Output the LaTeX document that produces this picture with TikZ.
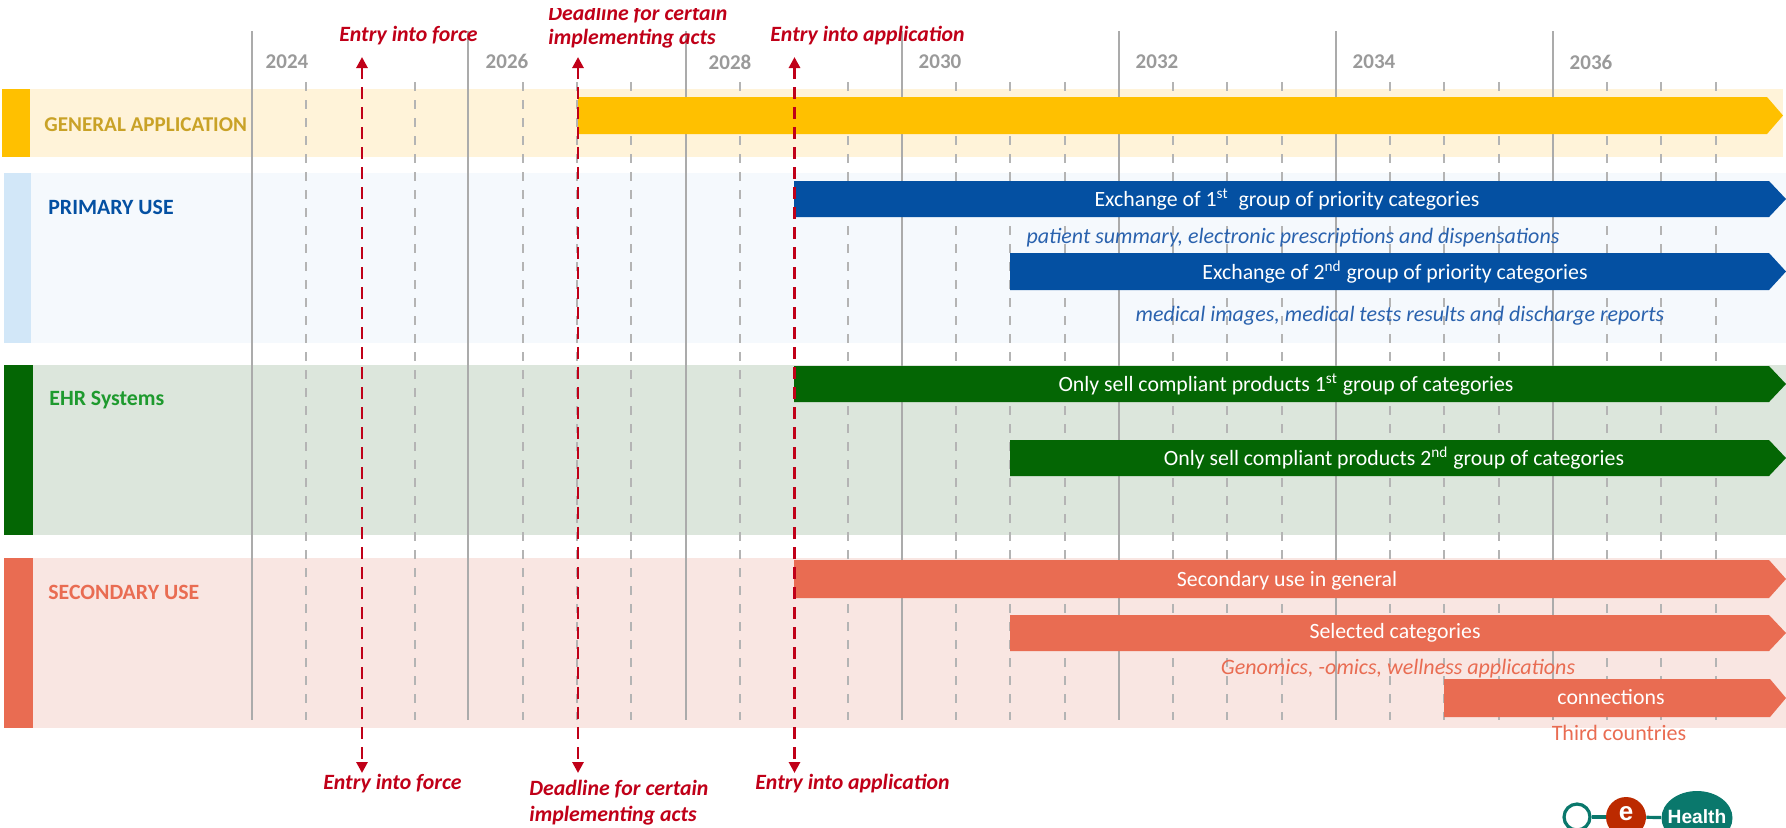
\documentclass[tikz,border=0pt]{standalone}
\usepackage{fontspec}
\setmainfont{Carlito}
\newfontfamily\logofont{Liberation Sans}
\usetikzlibrary{arrows.meta,shapes.geometric}
\definecolor{cyel}{HTML}{FFC000}\definecolor{cyelb}{HTML}{FFF3D9}\definecolor{cyelt}{HTML}{C9A227}
\definecolor{cblu}{HTML}{0450A2}\definecolor{cblub}{HTML}{F5F9FD}\definecolor{cblut}{HTML}{D2E7F8}\definecolor{cbluw}{HTML}{2A62AE}
\definecolor{cgrn}{HTML}{046604}\definecolor{cgrnb}{HTML}{DCE6DC}\definecolor{cgrnw}{HTML}{1E9A2E}
\definecolor{corg}{HTML}{E96C52}\definecolor{corgb}{HTML}{F9E6E2}
\definecolor{cred}{HTML}{C00018}\definecolor{cline}{HTML}{ABABAB}\definecolor{cdash}{HTML}{B4B4B4}\definecolor{cyear}{HTML}{9A9A9A}\definecolor{cteal}{HTML}{0A786C}\definecolor{clogr}{HTML}{BC2A00}
\tikzset{
 x=0.5pt,y=-0.5pt,
 solidline/.style={cline,line width=0.8pt},
 dashline/.style={cdash,line width=0.65pt,dash pattern=on 4.5pt off 4.5pt},
 redline/.style={cred,line width=1.4pt,dash pattern=on 6pt off 4pt,{Triangle[length=5.5pt,width=5.5pt]}-{Triangle[length=5.5pt,width=5.5pt]}},
 yeartxt/.style={cyear,font=\fontsize{10.5}{12}\selectfont\bfseries,inner sep=0},
 redtxt/.style={cred,font=\fontsize{10.9}{12}\selectfont\bfseries\itshape,inner sep=0,anchor=west},
 headtxt/.style={font=\fontsize{10.9}{12}\selectfont\bfseries,inner sep=0,anchor=west},
 bartxt/.style={white,font=\fontsize{10.9}{12}\selectfont,inner sep=0},
 subtxt/.style={font=\fontsize{11}{12}\selectfont\itshape,inner sep=0},
}
\newcommand{\barshape}[6]{% color, x0, x1 (head start), tip, y0, y1
 \fill[#1] (#2,#5) -- (#3,#5) -- (#4,{(#5+#6)/2}) -- (#3,#6) -- (#2,#6) -- cycle;}
\begin{document}
\begin{tikzpicture}
\useasboundingbox (0,0) rectangle (1786,827);
\clip (0,8) rectangle (1786,827);
% bands
\fill[cyelb] (30,89) rectangle (1783,157);
\fill[cyel] (2,89) rectangle (30,157);
\fill[cblub] (31,173) rectangle (1786,343);
\fill[cblut] (4,173) rectangle (31,343);
\fill[cgrnb] (33,365) rectangle (1786,535);
\fill[cgrn] (4,365) rectangle (33,535);
\fill[corgb] (33,558) rectangle (1786,728);
\fill[corg] (4,558) rectangle (33,728);
% grid
\foreach \x in {252,468,686,902,1119,1336,1553}
  \draw[solidline] (\x,31) -- (\x,720);
\foreach \x in {306,415,523,577,631,740,848,956,1010,1065,1173,1227,1282,1390,1444,1499,1607,1661,1716}
  \draw[dashline] (\x,82) -- (\x,720);
% bars
\barshape{cyel}{578}{1767}{1783}{97}{134}
\barshape{cblu}{794}{1769}{1786}{181}{217}
\barshape{cblu}{1010}{1769}{1786}{253}{290}
\barshape{cgrn}{794}{1769}{1786}{366}{402}
\barshape{cgrn}{1010}{1769}{1786}{440}{476}
\barshape{corg}{794}{1769}{1786}{560}{598}
\barshape{corg}{1010}{1769}{1786}{615}{651}
\barshape{corg}{1444}{1770}{1786}{679}{717}
% red markers
\coordinate (ftop) at (362,57); \coordinate (fbot) at (362,773);
\coordinate (dtop) at (578,57); \coordinate (dbot) at (578,773);
\coordinate (atop) at (794.5,57); \coordinate (abot) at (794.5,773);
\draw[redline] (ftop) -- (fbot);
\draw[redline] (dtop) -- (dbot);
\draw[redline] (atop) -- (abot);
% years
\node[yeartxt] (y24) at (287,62) {2024};
\node[yeartxt] (y26) at (507,61) {2026};
\node[yeartxt] (y28) at (730,62) {2028};
\node[yeartxt] (y30) at (940,62) {2030};
\node[yeartxt] (y32) at (1157,62) {2032};
\node[yeartxt] (y34) at (1374,62) {2034};
\node[yeartxt] (y36) at (1591,62) {2036};
% red labels
\node[redtxt] (t1) at (339,36) {Entry into force};
\node[redtxt] (t2) at (548,14) {Deadline for certain};
\node[redtxt] (t3) at (548,39) {implementing acts};
\node[redtxt] (t4) at (770,36) {Entry into application};
\node[redtxt] (b1) at (323,784) {Entry into force};
\node[redtxt] (b2) at (529,789) {Deadline for certain};
\node[redtxt] (b3) at (529,816) {implementing acts};
\node[redtxt] (b4) at (755,784) {Entry into application};
% headings
\node[headtxt,cyelt,font=\fontsize{10.55}{12}\selectfont\bfseries] (h1) at (44,125) {GENERAL APPLICATION};
\node[headtxt,cblu] (h2) at (48,207) {PRIMARY USE};
\node[headtxt,cgrnw] (h3) at (49,400) {EHR Systems};
\node[headtxt,corg] (h4) at (48,592) {SECONDARY USE};
% bar texts
\node[bartxt] (e1) at (1287,200) {Exchange of 1\textsuperscript{st}\ \ group of priority categories};
\node[bartxt] (e2) at (1395,272) {Exchange of 2\textsuperscript{nd} group of priority categories};
\node[subtxt,cbluw] (s1) at (1293,238) {patient summary, electronic prescriptions and dispensations};
\node[subtxt,cbluw] (s2) at (1400,316) {medical images, medical tests results and discharge reports};
\node[bartxt] (g1) at (1286,385) {Only sell compliant products 1\textsuperscript{st} group of categories};
\node[bartxt] (g2) at (1394,458) {Only sell compliant products 2\textsuperscript{nd} group of categories};
\node[bartxt] (o1) at (1287,581) {Secondary use in general};
\node[bartxt] (o2) at (1395,633) {Selected categories};
\node[subtxt,corg] (o3) at (1398,669) {Genomics, -omics, wellness applications};
\node[bartxt] (o4) at (1611,697) {connections};
\node[corg,font=\fontsize{11}{12}\selectfont,inner sep=0] (o5) at (1619,733) {Third countries};
% logo
\node[circle,draw=cteal,fill=white,line width=1.6pt,minimum size=13pt,inner sep=0] (la) at (1577,817) {};
\node[circle,fill=clogr,minimum size=20pt,inner sep=0] (lb) at (1626,817) {};
\node[ellipse,fill=cteal,minimum width=35.5pt,minimum height=27pt,inner sep=0] (lc) at (1697,818) {};
\node[text=white,inner sep=0,font=\logofont\bfseries\fontsize{13}{13}\selectfont] (le) at (1626,814) {e};
\node[text=white,inner sep=0,font=\logofont\bfseries\fontsize{9.6}{10}\selectfont] (lh) at (1697,817) {Health};
\draw[cteal,line width=1.6pt] (la) -- (lb);
\draw[cteal,line width=1.6pt] (lb) -- (lc);
\end{tikzpicture}
\end{document}
